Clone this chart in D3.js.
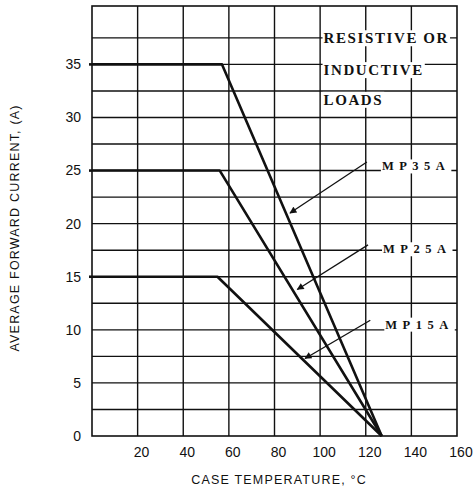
<!DOCTYPE html>
<html>
<head>
<script src="https://d3js.org/d3.v7.min.js"></script>
<style>
  body {margin: 0; background: #fff;}
  .tick-label {font: 14px "Liberation Sans", Arial, sans-serif; fill: #111;}
  .title {font: 12.5px "Liberation Sans", Arial, sans-serif; fill: #111; letter-spacing: 1.2px;}
  .note {font: bold 15px "Liberation Serif", serif; fill: #111; letter-spacing: 1.6px;}
  .part {font: bold 12.5px "Liberation Serif", serif; fill: #111; letter-spacing: 5.5px;}
</style>
</head>
<body>
<svg id="chart" width="474" height="490"></svg>
<script>
// data
var xTicks = [20, 40, 60, 80, 100, 120, 140, 160];
var yTicks = [0, 5, 10, 15, 20, 25, 30, 35];
var xGrid = [20, 40, 60, 80, 100, 120, 140];
var yGrid = [2.5, 5, 7.5, 10, 12.5, 15, 17.5, 20, 22.5, 25, 27.5, 30, 32.5, 35, 37.5];

var parts = ["MP35A", "MP25A", "MP15A"];
var ratedCurrent = [35, 25, 15];   // A, flat part
var kneeTemp = [57, 56, 55];       // degC where derating starts
var zeroTemp = [127, 127, 127];    // degC where current reaches 0

// arrows: label end -> curve end, in data units
var arrowFrom = [[120.5, 25.8], [121, 18.0], [122, 10.9]];
var arrowTo = [[86.8, 21.0], [90, 13.8], [93.4, 7.3]];

var svg = d3.select("#chart"),
    margin = {top: 6, right: 17, bottom: 54, left: 92},
    width = +svg.attr("width") - margin.left - margin.right,
    height = +svg.attr("height") - margin.top - margin.bottom,
    g = svg.append("g").attr("transform", "translate(" + margin.left + "," + margin.top + ")");

var x = d3.scaleLinear().domain([0, 160]).range([0, width]);
var y = d3.scaleLinear().domain([0, 40.5]).range([height, 0]);

svg.append("defs").append("marker")
    .attr("id", "arrow")
    .attr("viewBox", "0 0 10 10")
    .attr("refX", 9).attr("refY", 5)
    .attr("markerWidth", 9).attr("markerHeight", 7)
    .attr("markerUnits", "userSpaceOnUse")
    .attr("orient", "auto")
    .append("path")
    .attr("d", "M0,0L10,5L0,10z")
    .attr("fill", "#111");

// grid
g.append("g").selectAll("line")
    .data(xGrid)
    .enter().append("line")
    .attr("x1", function(d) { return x(d); })
    .attr("x2", function(d) { return x(d); })
    .attr("y1", 0).attr("y2", height)
    .attr("stroke", "#111").attr("stroke-width", 1.4);

g.append("g").selectAll("line")
    .data(yGrid)
    .enter().append("line")
    .attr("x1", 0).attr("x2", width)
    .attr("y1", function(d) { return y(d); })
    .attr("y2", function(d) { return y(d); })
    .attr("stroke", "#111").attr("stroke-width", 1.4);

g.append("rect")
    .attr("x", 0).attr("y", 0)
    .attr("width", width).attr("height", height)
    .attr("fill", "none").attr("stroke", "#111").attr("stroke-width", 1.6);

// tick labels
g.append("g").selectAll("text")
    .data(xTicks)
    .enter().append("text")
    .attr("class", "tick-label")
    .attr("x", function(d) { return x(d) + 4; })
    .attr("y", height + 21)
    .attr("text-anchor", "middle")
    .text(function(d) { return d; });

g.append("g").selectAll("text")
    .data(yTicks)
    .enter().append("text")
    .attr("class", "tick-label")
    .attr("x", -11)
    .attr("y", function(d) { return y(d); })
    .attr("dy", "0.35em")
    .attr("text-anchor", "end")
    .text(function(d) { return d; });

// small tick stubs left of the axis at the rated currents
g.append("g").selectAll("line")
    .data(ratedCurrent)
    .enter().append("line")
    .attr("x1", -3).attr("x2", 0)
    .attr("y1", function(d) { return y(d); })
    .attr("y2", function(d) { return y(d); })
    .attr("stroke", "#111").attr("stroke-width", 2.6);

// derating curves
var line = d3.line()
    .x(function(d) { return x(d[0]); })
    .y(function(d) { return y(d[1]); });

g.append("g").selectAll("path")
    .data(parts.map(function(p, i) {
      return [[0, ratedCurrent[i]], [kneeTemp[i], ratedCurrent[i]], [zeroTemp[i], 0]];
    }))
    .enter().append("path")
    .attr("d", line)
    .attr("fill", "none")
    .attr("stroke", "#111")
    .attr("stroke-width", 2.6)
    .attr("stroke-linejoin", "round");

// arrows
g.append("g").selectAll("line")
    .data(parts)
    .enter().append("line")
    .attr("x1", function(d, i) { return x(arrowFrom[i][0]); })
    .attr("y1", function(d, i) { return y(arrowFrom[i][1]); })
    .attr("x2", function(d, i) { return x(arrowTo[i][0]); })
    .attr("y2", function(d, i) { return y(arrowTo[i][1]); })
    .attr("stroke", "#111").attr("stroke-width", 1.3)
    .attr("marker-end", "url(#arrow)");

// white box behind a text so the grid does not run through it
function backdrop(sel, pad) {
  sel.each(function() {
    var b = this.getBBox();
    d3.select(this.parentNode).insert("rect", function() { return this.firstChild; }.bind(this.parentNode))
      .attr("x", b.x - pad).attr("y", b.y)
      .attr("width", b.width + 2 * pad).attr("height", b.height)
      .attr("fill", "#fff");
  });
}

// part labels
var partLabels = g.append("g").selectAll("text")
    .data(parts)
    .enter().append("text")
    .attr("class", "part")
    .attr("x", function(d, i) { return x(arrowFrom[i][0]) + 15; })
    .attr("y", function(d, i) { return y(arrowFrom[i][1]) + 4; })
    .attr("dy", "0.35em")
    .text(function(d) { return d; });
backdrop(partLabels, 1);

// load note
var noteLines = ["RESISTIVE OR", "INDUCTIVE", "LOADS"];
var noteRows = [37.5, 34.5, 31.7];
var notes = g.append("g").selectAll("text")
    .data(noteLines)
    .enter().append("text")
    .attr("class", "note")
    .attr("x", x(101.5))
    .attr("y", function(d, i) { return y(noteRows[i]); })
    .attr("dy", "0.36em")
    .text(function(d) { return d; });
backdrop(notes, 1);

// axis titles
svg.append("text")
    .attr("class", "title")
    .attr("x", margin.left + x(82))
    .attr("y", 484)
    .attr("text-anchor", "middle")
    .text("CASE TEMPERATURE, \u00B0C");

svg.append("text")
    .attr("class", "title")
    .attr("transform", "translate(19," + (margin.top + y(19.6)) + ") rotate(-90)")
    .attr("text-anchor", "middle")
    .text("AVERAGE FORWARD CURRENT, (A)");
</script>
</body>
</html>
